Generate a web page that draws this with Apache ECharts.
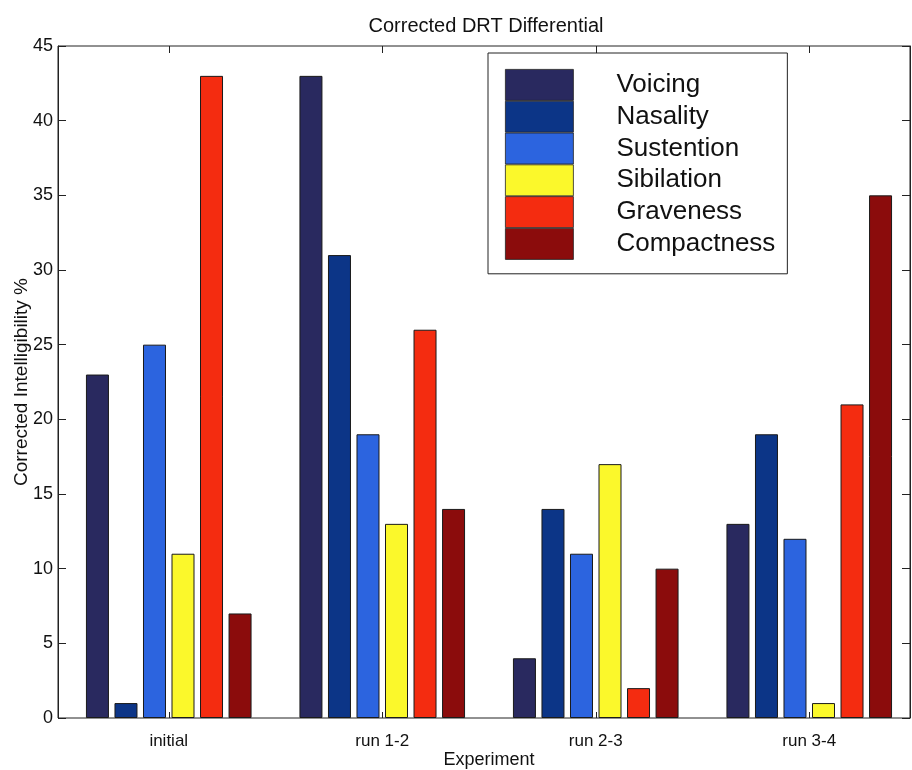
<!DOCTYPE html>
<html>
<head>
<meta charset="utf-8">
<script src="https://cdn.jsdelivr.net/npm/echarts@6/dist/echarts.min.js"></script>
<style>html,body{margin:0;padding:0;background:#fff;}#c{width:912px;height:770px;}</style>
</head>
<body>
<div id="c"></div>
<script>
var categories = ['initial', 'run 1-2', 'run 2-3', 'run 3-4'];
var seriesNames = ['Voicing', 'Nasality', 'Sustention', 'Sibilation', 'Graveness', 'Compactness'];
var voicing     = [23, 43, 4, 13];
var nasality    = [1, 31, 14, 19];
var sustention  = [25, 19, 11, 12];
var sibilation  = [11, 13, 17, 1];
var graveness   = [43, 26, 2, 21];
var compactness = [7, 14, 10, 35];
var yTicks = [0, 5, 10, 15, 20, 25, 30, 35, 40, 45];
var colors = ['#29295f', '#0c3587', '#2c64df', '#fbf82b', '#f42c10', '#8b0c0c'];

var values = [voicing, nasality, sustention, sibilation, graveness, compactness];
var font = 'Liberation Sans, Arial, sans-serif';

var series = seriesNames.map(function (n, i) {
  return {
    name: n, type: 'bar', xAxisIndex: 0, yAxisIndex: 2,
    data: values[i], barWidth: 23, barGap: '24%',
    itemStyle: { color: colors[i], borderColor: '#1a1a1a', borderWidth: 1 },
    emphasis: { disabled: true }
  };
});

var chart = echarts.init(document.getElementById('c'), null, { renderer: 'canvas' });
chart.setOption({
  animation: false,
  backgroundColor: '#fff',
  title: {
    text: 'Corrected DRT Differential', left: 481, top: 11, textAlign: 'center',
    textStyle: { fontFamily: font, fontSize: 20, fontWeight: 'normal', color: '#111' }
  },
  legend: {
    orient: 'vertical', left: 488, top: 53,
    padding: [16, 12, 14, 17], itemGap: 0,
    itemWidth: 68, itemHeight: 31, icon: 'rect',
    borderColor: '#222', borderWidth: 1, backgroundColor: '#fff',
    itemStyle: { borderColor: '#222', borderWidth: 0.8 },
    textStyle: { fontFamily: font, fontSize: 26, lineHeight: 31, color: '#111', padding: [0, 0, 0, 38] },
    data: seriesNames
  },
  grid: [
    { left: 58, right: 2, top: 46, bottom: 52, outerBoundsMode: 'none', containLabel: false,
      show: true, borderColor: '#222', borderWidth: 1, backgroundColor: 'transparent' },
    { left: 62, right: -4, top: 46, bottom: 52, outerBoundsMode: 'none', containLabel: false }
  ],
  xAxis: [
    {
      gridIndex: 1, type: 'category', data: categories, position: 'bottom',
      axisLine: { show: false },
      axisTick: { show: true, inside: true, alignWithLabel: true, length: 6, lineStyle: { color: '#222' } },
      axisLabel: { fontFamily: font, fontSize: 17, color: '#111', margin: 15 },
      name: 'Experiment', nameLocation: 'middle', nameGap: 33, nameMoveOverlap: false,
      nameTextStyle: { fontFamily: font, fontSize: 18, color: '#111' }
    },
    {
      gridIndex: 1, type: 'category', data: categories, position: 'top',
      axisLine: { show: false },
      axisTick: { show: true, inside: true, alignWithLabel: true, length: 7, lineStyle: { color: '#222' } },
      axisLabel: { show: false }
    },
    { gridIndex: 0, type: 'value', min: 0, max: 1, show: false }
  ],
  yAxis: [
    {
      gridIndex: 0, type: 'value', min: yTicks[0], max: yTicks[yTicks.length - 1], interval: 5, position: 'left',
      axisLine: { show: true, lineStyle: { color: '#222' } },
      axisTick: { show: true, inside: true, length: 8, lineStyle: { color: '#222' } },
      axisLabel: { fontFamily: font, fontSize: 18, color: '#111', margin: 5 },
      splitLine: { show: false },
      name: 'Corrected Intelligibility %', nameLocation: 'middle', nameGap: 27, nameMoveOverlap: false,
      nameTextStyle: { fontFamily: font, fontSize: 19, color: '#111' }
    },
    {
      gridIndex: 0, type: 'value', min: 0, max: 45, interval: 5, position: 'right',
      axisLine: { show: true, lineStyle: { color: '#222' } },
      axisTick: { show: true, inside: true, length: 8, lineStyle: { color: '#222' } },
      axisLabel: { show: false }, splitLine: { show: false }
    },
    { gridIndex: 1, type: 'value', min: 0, max: 45, show: false, splitLine: { show: false } }
  ],
  series: series
});
</script>
</body>
</html>
